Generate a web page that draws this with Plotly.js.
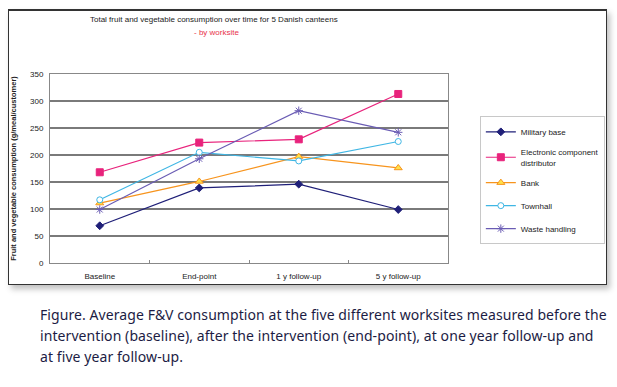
<!DOCTYPE html>
<html>
<head>
<meta charset="utf-8">
<script src="https://cdn.plot.ly/plotly-3.0.1.min.js"></script>
<style>
  html, body { margin: 0; padding: 0; background: #fff; }
  #wrap { position: relative; width: 617px; height: 387px; overflow: hidden; }
  #frame { position: absolute; left: 8px; top: 9px; width: 597px; height: 273px;
           border: 1.5px solid #333; border-top-width: 2px; background: #fff;
           box-shadow: 3px 4px 6px rgba(0,0,0,0.25); }
  #chart { position: absolute; left: 0; top: 0; width: 617px; height: 387px; }
  #caption { position: absolute; left: 40px; top: 304px; width: 577px; white-space: nowrap;
             font-family: "Noto Sans", sans-serif; letter-spacing: 0.08px;
             font-size: 14px; line-height: 21px; color: #1c1c44; }
</style>
</head>
<body>
<div id="wrap">
  <div id="frame"></div>
  <div id="chart"></div>
  <div id="caption">Figure. Average F&amp;V consumption at the five different worksites measured before the<br>intervention (baseline), after the intervention (end-point), at one year follow-up and<br>at five year follow-up.</div>
</div>
<script>
const categories = ["Baseline", "End-point", "1 y follow-up", "5 y follow-up"];
const seriesNames = ["Military base", "Electronic component<br>distributor", "Bank", "Townhall", "Waste handling"];
const militaryBase = [69, 139, 146, 99];
const electronic = [168, 223, 229, 313];
const bank = [111, 151, 197, 176];
const townhall = [117, 205, 189, 225];
const wasteHandling = [99, 193, 282, 242];

const styles = [
  {color: "#1f1f78", symbol: "diamond", size: 6, fill: "#1f1f78"},
  {color: "#e8237c", symbol: "square", size: 7, fill: "#e8237c"},
  {color: "#f7941d", symbol: "triangle-up", size: 7, fill: "#ffe14a"},
  {color: "#3fb6e4", symbol: "circle", size: 6, fill: "#ffffff"},
  {color: "#6a5cb4", symbol: "asterisk-open", size: 7, fill: "#6a5cb4"}
];
const values = [militaryBase, electronic, bank, townhall, wasteHandling];

const traces = values.map((v, i) => ({
  type: "scatter", mode: "lines+markers",
  x: categories, y: v, name: seriesNames[i], legendgroup: "g" + i,
  line: {color: styles[i].color, width: 1.2},
  marker: {symbol: styles[i].symbol, size: styles[i].size, color: styles[i].fill,
           line: {color: styles[i].color, width: 1}}
}));

const layout = {
  width: 617, height: 387,
  margin: {l: 50, r: 156, t: 74, b: 124},
  paper_bgcolor: "rgba(0,0,0,0)", plot_bgcolor: "#fff",
  font: {family: "Liberation Sans, Arial, sans-serif", size: 8, color: "#222"},
  showlegend: true,
  legend: {x: 1.08, xanchor: "left", y: 0.776, yanchor: "top",
           bordercolor: "#c8c8c8", borderwidth: 1, bgcolor: "#fff",
           font: {size: 8, color: "#222"}, tracegroupgap: 4, traceorder: "grouped",
           itemwidth: 30},
  xaxis: {type: "category", range: [-0.5, 3.5], showgrid: false, zeroline: false,
          showline: true, linecolor: "#888", linewidth: 1, mirror: true,
          ticks: "inside", ticklen: 3, tickcolor: "#888", tickson: "boundaries",
          ticklabelstandoff: 5,
          tickfont: {size: 8, color: "#222"}},
  yaxis: {range: [0, 350], dtick: 50, showgrid: true, gridcolor: "#7a7a7a", gridwidth: 1.3,
          zeroline: false, showline: true, linecolor: "#888", linewidth: 1, mirror: true,
          ticks: "", ticklabelstandoff: 4, tickfont: {size: 8, color: "#222"},
          title: {text: "<b>Fruit and vegetable consumption (g/meal/customer)</b>",
                  font: {size: 7.5, color: "#222"}, standoff: 12}},
  annotations: [
    {xref: "paper", yref: "paper", x: 0.413, y: 1.288, xanchor: "center", yanchor: "middle",
     text: "Total fruit and vegetable consumption over time for 5 Danish canteens",
     showarrow: false, font: {size: 8, color: "#222"}},
    {xref: "paper", yref: "paper", x: 0.418, y: 1.22, xanchor: "center", yanchor: "middle",
     text: "- by worksite", showarrow: false, font: {size: 8, color: "#e8334a"}}
  ]
};

Plotly.newPlot("chart", traces, layout, {displayModeBar: false, staticPlot: true});
</script>
</body>
</html>
